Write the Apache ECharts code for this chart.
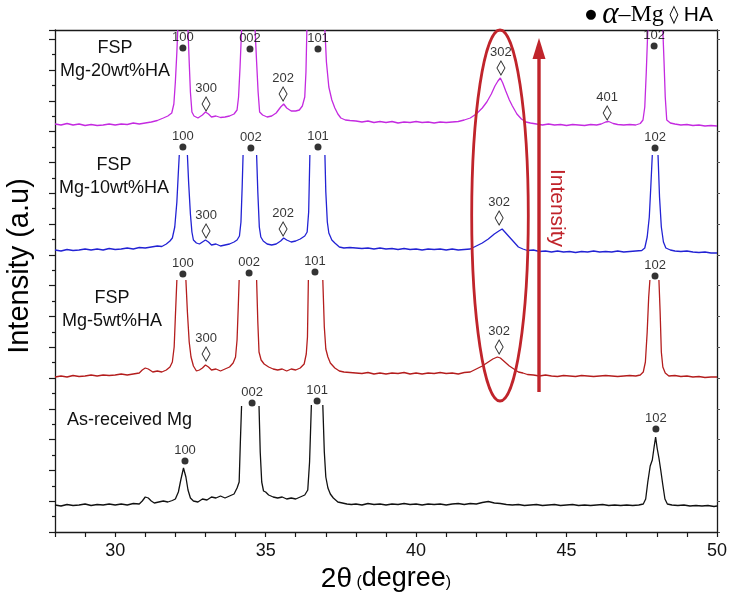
<!DOCTYPE html>
<html>
<head>
<meta charset="utf-8">
<script src="https://cdn.jsdelivr.net/npm/echarts/dist/echarts.min.js"></script>
<style>
  html, body { margin: 0; padding: 0; background: #fff; }
  #chart { width: 733px; height: 595px; }
</style>
</head>
<body>
<div id="chart"></div>
<script>
// ---------------- DATA ----------------
// x tick labels on the 2θ axis
const xTickLabels = [30, 35, 40, 45, 50];

// sample names (top to bottom)
const sampleNames = ['FSP\nMg-20wt%HA', 'FSP\nMg-10wt%HA', 'FSP\nMg-5wt%HA', 'As-received Mg'];

// traces: [2θ, stacked intensity (a.u.)]; null = peak top truncated in the original
const tracePurple = [
[28.0,408],[28.2,407],[28.4,408.5],[28.6,407],[28.8,408],[29.0,406.5],[29.2,407.5],[29.4,406.5],[29.6,407],[29.8,408],
[30.0,407],[30.2,408],[30.4,407.5],[30.6,409],[30.8,408],[31.0,409],[31.2,410],[31.4,411.5],[31.6,414],[31.75,416],
[31.88,419],[31.95,428],[32.0,450],[32.05,480],[32.08,502],[32.25,null],[32.42,502],[32.46,470],[32.5,440],[32.55,420],
[32.62,416],[32.75,414],[32.9,417],[33.0,420],[33.1,418],[33.2,415],[33.35,416],[33.5,414.5],[33.65,415],[33.8,416],
[33.95,418],[34.05,422],[34.1,435],[34.15,465],[34.2,502],[34.45,null],[34.65,502],[34.7,470],[34.75,440],[34.8,420],
[34.9,417],[35.05,415],[35.2,416],[35.35,419],[35.5,425],[35.6,428],[35.7,424],[35.85,421],[36.0,421],[36.12,422],
[36.22,426],[36.3,435],[36.34,460],[36.37,502],[36.7,null],[36.97,502],[37.02,470],[37.1,445],[37.2,432],[37.3,424],
[37.4,418],[37.5,414],[37.65,412],[37.8,411.5],[38.0,411],[38.2,410],[38.4,411],[38.6,409.5],[38.8,410.5],[39.0,409.5],
[39.2,410.5],[39.4,409],[39.6,410],[39.8,409.5],[40.0,410.5],[40.2,409.5],[40.4,410],[40.6,409],[40.8,410],[41.0,409.5],
[41.2,410],[41.4,410.5],[41.6,412],[41.8,414],[42.0,418],[42.2,424],[42.35,430],[42.5,438],[42.62,446],[42.72,451],
[42.8,454],[42.88,449],[42.98,441],[43.1,432],[43.2,426],[43.35,418],[43.5,413],[43.65,410],[43.8,409],[44.0,408],
[44.2,407],[44.4,408],[44.6,407],[44.8,407.5],[45.0,406.5],[45.2,407.5],[45.4,407],[45.6,406.5],[45.8,407.5],[46.0,407],
[46.15,408],[46.3,410],[46.4,410.5],[46.55,408.5],[46.7,407.5],[46.9,407],[47.1,407.5],[47.3,407],[47.45,408.5],[47.54,412],
[47.6,425],[47.65,460],[47.7,502],[47.95,null],[48.2,502],[48.24,470],[48.28,435],[48.33,412],[48.45,409],[48.6,408],
[48.8,407],[49.0,407.5],[49.2,406.5],[49.4,407],[49.6,406],[49.8,406.5],[50.0,406]
];

const traceBlue = [
[28.0,282],[28.2,281],[28.4,282.5],[28.6,281.5],[28.8,282],[29.0,283],[29.2,282],[29.4,283],[29.6,282],[29.8,283.5],
[30.0,282.5],[30.2,283],[30.4,284],[30.6,283],[30.8,284.5],[31.0,284],[31.2,285],[31.4,286],[31.55,285.5],[31.7,288],
[31.82,291],[31.9,294],[31.98,305],[32.05,330],[32.1,360],[32.13,377],[32.3,null],[32.4,377],[32.44,350],[32.5,318],
[32.55,300],[32.6,292],[32.7,289],[32.8,288],[32.9,290],[33.0,292],[33.1,290],[33.2,287],[33.35,288],[33.5,286],
[33.65,287],[33.8,288],[33.95,290],[34.05,292],[34.13,296],[34.18,310],[34.22,345],[34.25,377],[34.5,null],[34.7,377],
[34.74,340],[34.79,305],[34.84,295],[34.92,291],[35.05,288],[35.2,287],[35.35,288],[35.5,291],[35.6,294],[35.7,292],
[35.85,290],[36.0,291],[36.15,293],[36.3,296],[36.38,300],[36.43,320],[36.47,377],[36.7,null],[36.97,377],[37.0,340],
[37.05,310],[37.1,299],[37.2,292],[37.3,289],[37.45,285],[37.6,284],[37.8,284.5],[38.0,284],[38.2,283.5],[38.4,284],
[38.6,283],[38.8,284],[39.0,283],[39.2,283.5],[39.4,282.5],[39.6,283.5],[39.8,282.5],[40.0,283],[40.2,282],[40.4,283],
[40.6,282.5],[40.8,283],[41.0,282],[41.2,283],[41.4,282],[41.6,282.5],[41.8,283],[42.0,286],[42.2,289],[42.4,293],
[42.6,298],[42.75,301],[42.86,303],[42.95,300],[43.1,295],[43.25,290],[43.4,285],[43.55,283],[43.7,281.5],[43.9,282],
[44.1,280.5],[44.3,281],[44.5,280],[44.7,281],[44.9,280],[45.1,280.5],[45.3,279.5],[45.5,280.5],[45.7,280],[45.9,281],
[46.1,280],[46.3,280.5],[46.5,280],[46.7,281],[46.9,280],[47.1,280.5],[47.3,281],[47.5,281.5],[47.6,284],[47.68,295],
[47.75,315],[47.8,345],[47.85,377],[47.95,null],[48.04,377],[48.09,335],[48.15,305],[48.22,290],[48.3,284],[48.45,282],
[48.6,281],[48.8,280.5],[49.0,281],[49.2,280],[49.4,279.5],[49.6,280],[49.8,279],[50.0,279]
];

const traceRed = [
[28.0,155],[28.2,156],[28.4,155],[28.6,156.5],[28.8,155.5],[29.0,156],[29.2,157],[29.4,156],[29.6,157],[29.8,156.5],
[30.0,157],[30.2,158],[30.4,157],[30.6,158],[30.8,159],[30.9,162],[31.0,164],[31.1,163],[31.25,160],[31.4,161],
[31.55,160],[31.7,162],[31.82,165],[31.9,170],[31.96,185],[32.0,215],[32.05,252],[32.2,null],[32.35,252],[32.4,220],
[32.46,190],[32.52,175],[32.6,166],[32.7,161],[32.8,162],[32.9,164],[33.0,167],[33.1,165],[33.2,162],[33.35,163],
[33.5,161],[33.65,163],[33.8,165],[33.92,169],[34.0,175],[34.05,192],[34.09,225],[34.12,252],[34.4,null],[34.7,252],
[34.74,210],[34.78,180],[34.85,172],[34.95,168],[35.1,165],[35.25,163],[35.4,162],[35.55,163],[35.7,161],[35.85,163],
[36.0,162],[36.15,164],[36.28,168],[36.35,178],[36.39,195],[36.42,252],[36.65,null],[36.9,252],[36.95,205],[37.0,183],
[37.07,175],[37.15,169],[37.3,164],[37.45,161],[37.6,160],[37.8,159.5],[38.0,159],[38.2,158.5],[38.4,159.5],[38.6,158],
[38.8,159],[39.0,158],[39.2,159],[39.4,158.5],[39.6,159.5],[39.8,158],[40.0,159],[40.2,158],[40.4,159],[40.6,158.5],
[40.8,159.5],[41.0,158.5],[41.2,159],[41.4,158],[41.6,159.5],[41.8,160],[42.0,163],[42.2,166],[42.4,170],[42.55,173],
[42.7,175],[42.8,174],[42.95,170],[43.1,166],[43.25,163],[43.4,160],[43.55,159],[43.7,157.5],[43.9,157],[44.1,156],
[44.3,157],[44.5,156],[44.7,155.5],[44.9,156.5],[45.1,156],[45.3,155.5],[45.5,156.5],[45.7,156],[45.9,155.5],[46.1,156],
[46.3,156.5],[46.5,156],[46.7,155.5],[46.9,156],[47.1,156.5],[47.3,156],[47.45,157],[47.55,160],[47.62,170],[47.68,200],
[47.73,235],[47.77,252],[47.9,null],[48.07,252],[48.11,220],[48.15,180],[48.2,165],[48.28,159],[48.4,156],[48.6,156.5],
[48.8,155.5],[49.0,156],[49.2,155],[49.4,155.5],[49.6,154.5],[49.8,155],[50.0,155]
];

const traceBlack = [
[28.0,27],[28.2,26],[28.4,27.5],[28.6,26.5],[28.8,27],[29.0,28],[29.2,26.5],[29.4,27.5],[29.6,27],[29.8,28],
[30.0,27],[30.2,28],[30.4,27],[30.6,28.5],[30.8,28],[30.9,31],[31.0,35],[31.1,34],[31.2,31],[31.3,29],
[31.45,30],[31.6,31],[31.75,30],[31.9,31.5],[32.0,33],[32.1,40],[32.18,52],[32.27,64],[32.35,55],[32.42,42],
[32.5,34],[32.6,31],[32.75,30],[32.9,33],[33.05,32],[33.2,35],[33.35,34],[33.5,36],[33.65,34],[33.8,36],
[33.95,38],[34.05,44],[34.12,50],[34.16,90],[34.2,126],[34.45,null],[34.78,126],[34.82,80],[34.87,50],[34.93,41],
[35.0,40],[35.1,37],[35.25,35],[35.4,34],[35.55,35],[35.7,33],[35.85,34],[36.0,33],[36.15,35],[36.3,37],
[36.4,42],[36.46,70],[36.52,127],[36.7,null],[36.9,127],[36.95,80],[37.0,55],[37.07,44],[37.15,38],[37.25,34],
[37.4,30],[37.55,29],[37.7,28],[37.85,27.5],[38.0,28],[38.2,27],[38.4,28.5],[38.6,27.5],[38.8,28],[39.0,27],
[39.2,28],[39.4,27.5],[39.6,28.5],[39.8,27.5],[40.0,28],[40.2,27],[40.4,28],[40.6,27.5],[40.8,28],[41.0,27],
[41.2,28],[41.4,28.5],[41.6,27.5],[41.8,28.5],[42.0,28],[42.2,29.5],[42.4,30.5],[42.6,29],[42.8,28.5],[43.0,27.5],
[43.2,27],[43.4,27.5],[43.6,26.5],[43.8,27],[44.0,27.5],[44.2,26.5],[44.4,27],[44.6,27.5],[44.8,26.5],[45.0,27],
[45.2,27.5],[45.4,26.5],[45.6,27],[45.8,26.5],[46.0,27],[46.2,27.5],[46.4,26.5],[46.6,27],[46.8,26.5],[47.0,27],
[47.2,26.5],[47.4,27],[47.55,28],[47.63,33],[47.7,50],[47.78,66],[47.85,72],[47.91,85],[47.96,95],[48.01,84],
[48.07,74],[48.13,62],[48.2,47],[48.27,33],[48.35,28],[48.5,27],[48.7,26.5],[48.9,27],[49.1,26],[49.3,26.5],
[49.5,26],[49.7,26.5],[49.9,25.5],[50.0,26]
];

// peak markers: [2θ, marker height, hkl, phase]  (Mg = ● α-Mg, HA = ◊ HA)
const marksPurple = [[32.25,484,'100','Mg'],[34.48,483,'002','Mg'],[36.74,483,'101','Mg'],[33.02,428,'300','HA'],
                     [35.58,438,'202','HA'],[42.82,464,'302','HA'],[46.35,419,'401','HA'],[47.91,486,'102','Mg']];
const marksBlue   = [[32.25,385,'100','Mg'],[34.51,384,'002','Mg'],[36.74,385,'101','Mg'],[33.02,301,'300','HA'],
                     [35.58,303,'202','HA'],[42.76,314,'302','HA'],[47.94,384,'102','Mg']];
const marksRed    = [[32.25,258,'100','Mg'],[34.45,259,'002','Mg'],[36.64,260,'101','Mg'],[33.02,178,'300','HA'],
                     [42.76,185,'302','HA'],[47.94,256,'102','Mg']];
const marksBlack  = [[32.32,71,'100','Mg'],[34.55,129,'002','Mg'],[36.71,131,'101','Mg'],[47.97,103,'102','Mg']];

// ---------------- STYLE / LAYOUT ----------------
const FONT = '"Liberation Sans", Arial, "DejaVu Sans", sans-serif';
const SERIF = '"Liberation Serif", "Times New Roman", serif';
const RED = '#c0242b';
const colors = { purple: '#c42ae0', blue: '#2222d4', red: '#b41d1d', black: '#111111' };

const allMarks = [].concat(marksPurple, marksBlue, marksRed, marksBlack);
const toItem = m => ({ name: m[2], value: [m[0], m[1]] });

function lineSeries(name, data, color) {
  return {
    name, type: 'line', data, symbol: 'none', showSymbol: false,
    connectNulls: false, clip: true, silent: true, z: 3,
    lineStyle: { color, width: 1.3 }
  };
}

const labelStyle = { show: true, position: 'top', distance: 1, formatter: '{b}',
  fontSize: 13, fontFamily: FONT, color: '#000' };

const chart = echarts.init(document.getElementById('chart'), null, { renderer: 'canvas' });

const option = {
  animation: false,
  backgroundColor: '#fff',
  grid: { left: 55, right: 16, top: 30, bottom: 63, containLabel: false, outerBoundsMode: 'none' },
  xAxis: [{
    type: 'value', min: 28, max: 50, interval: 1,
    name: '{a|2θ}{p| (}{b|degree}{p|)}',
    nameLocation: 'middle', nameGap: 33,
    nameTextStyle: { rich: {
      a: { fontSize: 28, fontFamily: FONT, color: '#000' },
      b: { fontSize: 27, fontFamily: FONT, color: '#000' },
      p: { fontSize: 16, fontFamily: FONT, color: '#000', padding: [8, 0, 0, 0] }
    } },
    axisLine: { show: true, onZero: false, lineStyle: { color: '#1a1a1a', width: 1.3 } },
    axisTick: { show: true, inside: false, length: 5, lineStyle: { color: '#1a1a1a', width: 1.2 } },
    axisLabel: { show: true, margin: 10, fontSize: 18, fontFamily: FONT, color: '#111',
      formatter: v => (xTickLabels.indexOf(Math.round(v)) >= 0 && Math.abs(v - Math.round(v)) < 1e-6) ? String(Math.round(v)) : '' },
    splitLine: { show: false }
  }, {
    type: 'value', min: 28, max: 50, position: 'top',
    axisLine: { show: true, onZero: false, lineStyle: { color: '#1a1a1a', width: 1.3 } },
    axisTick: { show: false }, axisLabel: { show: false }, splitLine: { show: false }
  }],
  yAxis: [{
    type: 'value', min: 0, max: 502, interval: 30.8,
    name: 'Intensity (a.u)', nameLocation: 'middle', nameGap: 21,
    nameTextStyle: { fontSize: 29, fontFamily: FONT, color: '#000', padding: [0, 0, 0, 30] },
    axisLine: { show: true, onZero: false, lineStyle: { color: '#1a1a1a', width: 1.3 } },
    axisTick: { show: true, inside: false, length: 6, lineStyle: { color: '#1a1a1a', width: 1.2 } },
    minorTick: { show: true, splitNumber: 2, length: 3, lineStyle: { color: '#1a1a1a', width: 1.2 } },
    axisLabel: { show: false }, splitLine: { show: false }, minorSplitLine: { show: false }
  }, {
    type: 'value', min: 0, max: 502, interval: 30.8, position: 'right',
    axisLine: { show: true, onZero: false, lineStyle: { color: '#1a1a1a', width: 1.3 } },
    axisTick: { show: true, inside: false, length: 3, lineStyle: { color: '#555', width: 1 } },
    axisLabel: { show: false }, splitLine: { show: false }
  }],
  series: [
    lineSeries('Mg-20wt%HA', tracePurple, colors.purple),
    lineSeries('Mg-10wt%HA', traceBlue, colors.blue),
    lineSeries('Mg-5wt%HA', traceRed, colors.red),
    lineSeries('As-received Mg', traceBlack, colors.black),
    {
      name: 'α-Mg', type: 'scatter', z: 5, silent: true,
      data: allMarks.filter(m => m[3] === 'Mg').map(toItem),
      symbol: 'circle', symbolSize: 7,
      itemStyle: { color: '#000' }, label: labelStyle
    },
    {
      name: 'HA', type: 'scatter', z: 5, silent: true,
      data: allMarks.filter(m => m[3] === 'HA').map(toItem),
      symbol: 'diamond', symbolSize: [8, 14],
      itemStyle: { color: 'rgba(255,255,255,0)', borderColor: '#000', borderWidth: 1 },
      label: labelStyle
    }
  ],
  graphic: [
    // sample names
    { type: 'text', x: 115, y: 60, z: 10, silent: true,
      style: { text: sampleNames[0], fontSize: 18, fontFamily: FONT, fill: '#111', lineHeight: 23,
               align: 'center', verticalAlign: 'middle', textAlign: 'center', textVerticalAlign: 'middle' } },
    { type: 'text', x: 114, y: 177, z: 10, silent: true,
      style: { text: sampleNames[1], fontSize: 18, fontFamily: FONT, fill: '#111', lineHeight: 23,
               align: 'center', verticalAlign: 'middle', textAlign: 'center', textVerticalAlign: 'middle' } },
    { type: 'text', x: 112, y: 310, z: 10, silent: true,
      style: { text: sampleNames[2], fontSize: 18, fontFamily: FONT, fill: '#111', lineHeight: 23,
               align: 'center', verticalAlign: 'middle', textAlign: 'center', textVerticalAlign: 'middle' } },
    { type: 'text', x: 67, y: 420, z: 10, silent: true,
      style: { text: sampleNames[3], fontSize: 18, fontFamily: FONT, fill: '#111',
               align: 'left', verticalAlign: 'middle', textAlign: 'left', textVerticalAlign: 'middle' } },
    // phase key, top right
    { type: 'text', x: 713, y: 15, z: 10, silent: true,
      style: { text: '{d|●} {g|α}{s|–Mg} {h|◊} {n|HA}', fontSize: 20, fontFamily: FONT, fill: '#000',
               align: 'right', verticalAlign: 'middle', textAlign: 'right', textVerticalAlign: 'middle',
               rich: {
                 d: { fontSize: 13, fontFamily: 'DejaVu Sans', fill: '#000' },
                 g: { fontSize: 31, fontFamily: SERIF, fontStyle: 'italic', fill: '#000' },
                 s: { fontSize: 24, fontFamily: SERIF, fill: '#000' },
                 h: { fontSize: 18, fontFamily: 'DejaVu Sans', fill: '#000' },
                 n: { fontSize: 21, fontFamily: FONT, fill: '#000' }
               } } },
    // highlight ellipse around HA (302)
    { type: 'ellipse', z: 8, silent: true,
      shape: { cx: 500, cy: 215.5, rx: 28.3, ry: 185.5 },
      style: { fill: 'none', stroke: RED, lineWidth: 2.8 } },
    // intensity arrow
    { type: 'line', z: 8, silent: true,
      shape: { x1: 539, y1: 392, x2: 539, y2: 54 },
      style: { stroke: RED, lineWidth: 3.4 } },
    { type: 'polygon', z: 8, silent: true,
      shape: { points: [[539, 38], [545.5, 59], [532.5, 59]] },
      style: { fill: RED } },
    { type: 'text', x: 557, y: 208, rotation: -Math.PI / 2, z: 8, silent: true,
      style: { text: 'Intensity', fontSize: 21, fontFamily: FONT, fill: RED,
               align: 'center', verticalAlign: 'middle', textAlign: 'center', textVerticalAlign: 'middle' } }
  ]
};

chart.setOption(option);
</script>
</body>
</html>
